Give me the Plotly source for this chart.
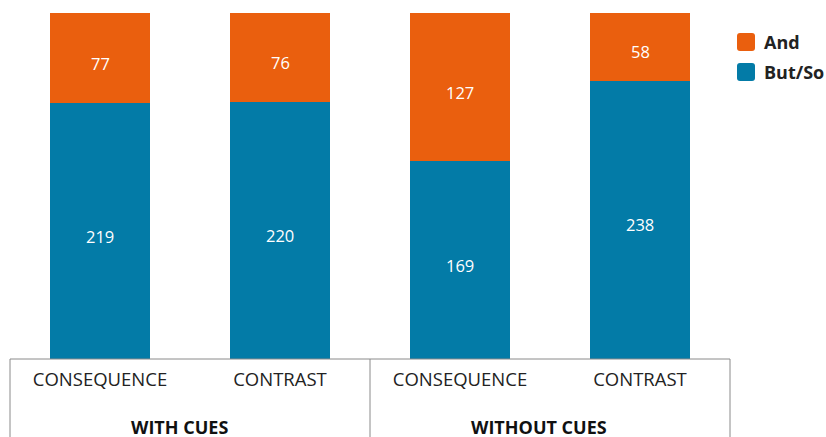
import plotly.graph_objects as go

categories = ["CONSEQUENCE", "CONTRAST", "CONSEQUENCE ", "CONTRAST "]
tick_labels = ["CONSEQUENCE", "CONTRAST", "CONSEQUENCE", "CONTRAST"]
groups = ["WITH CUES", "WITHOUT CUES"]
series_names = ["But/So", "And"]
but_so = [219, 220, 169, 238]
and_vals = [77, 76, 127, 58]
colors = {"But/So": "#037BA7", "And": "#EA5F0E"}

W, H = 826, 437
L, R, T, B = 10, 96, 13, 78
plot_h = H - T - B
FONT = "Open Sans"

fig = go.Figure()
series = [but_so, and_vals]
for name, vals in zip(series_names, series):
    fig.add_trace(go.Bar(
        x=categories, y=vals, name=name,
        marker=dict(color=colors[name], line=dict(width=0)),
        width=0.556, showlegend=False, hoverinfo="skip",
    ))

annotations = []
# value labels (centre of each stacked segment, in percent of its bar)
for i, cat in enumerate(categories):
    total = sum(s[i] for s in series)
    cum = 0
    for s in series:
        v = s[i]
        mid = (cum + v / 2) / total * 100
        cum += v
        annotations.append(dict(text=str(v), x=cat, y=mid, xref="x", yref="y",
                                showarrow=False, yshift=-5,
                                font=dict(size=16.5, color="white", family=FONT)))

shapes = []
line_col = "#8a8a8a"
shapes.append(dict(type="line", xref="paper", yref="paper", x0=0, x1=1, y0=0, y1=0,
                   line=dict(color=line_col, width=1)))
ybot = -(B + 5) / plot_h
for xp in [0, 0.5, 1]:
    shapes.append(dict(type="line", xref="paper", yref="paper", x0=xp, x1=xp, y0=0, y1=ybot,
                       line=dict(color=line_col, width=1)))

for i, g in enumerate(groups):
    annotations.append(dict(text="<b>" + g + "</b>", xref="paper", yref="paper",
                            x=0.25 + 0.5 * i, xshift=-11, xanchor="center",
                            y=-(427 - 359) / plot_h, yanchor="middle",
                            showarrow=False, font=dict(size=18, color="#111", family=FONT)))


def px(x):
    return (x - L) / (W - L - R)


def py(y):
    return (H - B - y) / plot_h


leg_items = [("And", 42), ("But/So", 72)]
for name, yc in leg_items:
    x0, x1 = 737, 755
    y0, y1 = yc - 9, yc + 9
    r = 3
    path = (f"M {px(x0+r)} {py(y0)} L {px(x1-r)} {py(y0)} Q {px(x1)} {py(y0)} {px(x1)} {py(y0+r)} "
            f"L {px(x1)} {py(y1-r)} Q {px(x1)} {py(y1)} {px(x1-r)} {py(y1)} "
            f"L {px(x0+r)} {py(y1)} Q {px(x0)} {py(y1)} {px(x0)} {py(y1-r)} "
            f"L {px(x0)} {py(y0+r)} Q {px(x0)} {py(y0)} {px(x0+r)} {py(y0)} Z")
    shapes.append(dict(type="path", xref="paper", yref="paper", path=path,
                       fillcolor=colors[name], line=dict(width=0)))
    annotations.append(dict(text="<b>" + name + "</b>", xref="paper", yref="paper",
                            x=px(762), y=py(yc), xanchor="left", yanchor="middle",
                            showarrow=False, font=dict(size=18, color="#222", family=FONT)))

fig.update_layout(
    width=W, height=H, barmode="stack", barnorm="percent",
    margin=dict(l=L, r=R, t=T, b=B),
    plot_bgcolor="white", paper_bgcolor="white",
    xaxis=dict(tickvals=categories, ticktext=tick_labels, showline=False, showgrid=False,
               ticks="", tickfont=dict(size=18.5, color="#222", family=FONT),
               ticklabelstandoff=7, range=[-0.5, 3.5]),
    yaxis=dict(visible=False, range=[0, 100]),
    shapes=shapes, annotations=annotations,
)
fig.write_html("out.html", config={"displayModeBar": False},
               post_script="document.body.style.margin='0';document.body.style.overflow='hidden';")
